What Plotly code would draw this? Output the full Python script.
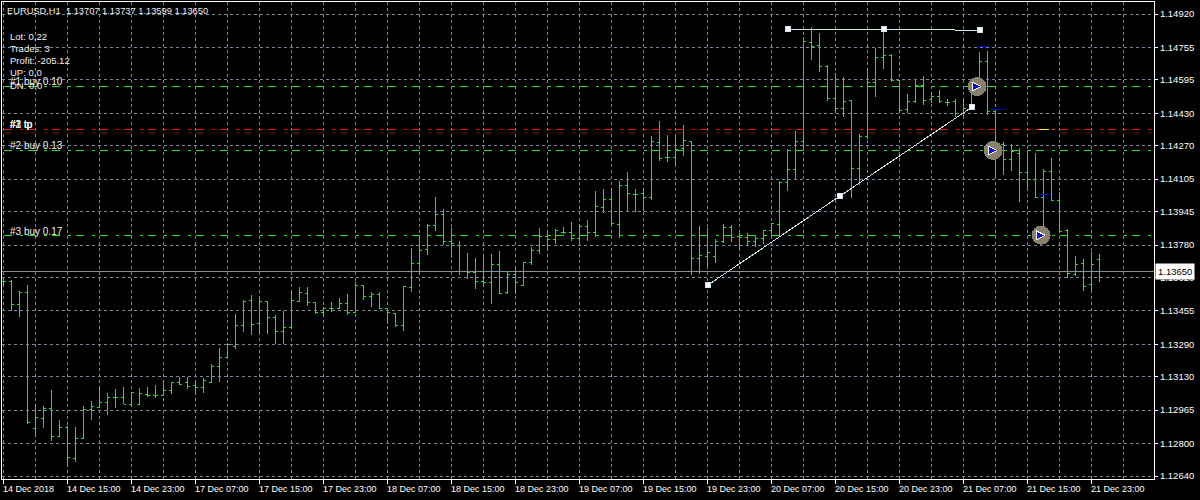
import plotly.graph_objects as go

opens = [1.13602,1.13602,1.13484,1.13548,1.12872,1.12922,1.12971,1.12837,1.12881,1.12724,
1.12823,1.12966,1.12980,1.13005,1.13029,1.13025,1.12995,1.12995,1.13044,1.13039,
1.13039,1.13064,1.13099,1.13099,1.13089,1.13075,1.13099,1.13178,1.13227,1.13281,
1.13385,1.13504,1.13395,1.13499,1.13424,1.13355,1.13375,1.13499,1.13543,1.13494,
1.13449,1.13469,1.13469,1.13489,1.13449,1.13582,1.13528,1.13538,1.13469,1.13444,
1.13385,1.13572,1.13691,1.13760,1.13878,1.13933,1.13795,1.13780,1.13647,1.13642,
1.13602,1.13597,1.13686,1.13548,1.13632,1.13582,1.13696,1.13755,1.13824,1.13805,
1.13844,1.13844,1.13810,1.13873,1.13844,1.13967,1.14007,1.13883,1.14076,1.14031,
1.14036,1.14012,1.14288,1.14210,1.14214,1.14254,1.14293,1.13711,1.13725,1.13725,
1.13795,1.13864,1.13824,1.13815,1.13795,1.13810,1.13854,1.13883,1.14086,1.14155,
1.14293,1.14777,1.14767,1.14663,1.14501,1.14456,1.14491,1.14160,1.14313,1.14584,
1.14703,1.14713,1.14594,1.14451,1.14486,1.14565,1.14496,1.14515,1.14481,1.14486,
1.14431,1.14456,1.14565,1.14688,1.14441,1.14274,1.14200,1.14234,1.14140,1.14101,
1.14016,1.14145,1.14002,1.13854,1.13632,1.13691,1.13587,1.13707]
highs = [1.13613,1.13607,1.13553,1.13582,1.12995,1.12985,1.13064,1.12916,1.12886,1.12881,
1.12985,1.13010,1.13084,1.13049,1.13070,1.13079,1.13054,1.13075,1.13079,1.13089,
1.13114,1.13104,1.13128,1.13128,1.13114,1.13124,1.13192,1.13272,1.13296,1.13439,
1.13509,1.13533,1.13523,1.13504,1.13434,1.13454,1.13553,1.13572,1.13572,1.13499,
1.13474,1.13499,1.13519,1.13538,1.13597,1.13582,1.13548,1.13548,1.13469,1.13444,
1.13577,1.13766,1.13829,1.13883,1.14016,1.13958,1.13864,1.13800,1.13740,1.13716,
1.13735,1.13735,1.13750,1.13647,1.13671,1.13696,1.13770,1.13864,1.13854,1.13859,
1.13869,1.13893,1.13883,1.13903,1.14046,1.14057,1.14062,1.14096,1.14140,1.14057,
1.14062,1.14318,1.14392,1.14323,1.14328,1.14372,1.14293,1.13873,1.13864,1.13810,
1.13883,1.13878,1.13839,1.13839,1.13829,1.13854,1.13888,1.14096,1.14254,1.14343,
1.14806,1.14856,1.14826,1.14668,1.14629,1.14609,1.14491,1.14328,1.14654,1.14752,
1.14831,1.14723,1.14594,1.14525,1.14594,1.14614,1.14535,1.14545,1.14501,1.14501,
1.14505,1.14565,1.14732,1.14737,1.14446,1.14288,1.14278,1.14259,1.14249,1.14234,
1.14155,1.14210,1.14041,1.13859,1.13725,1.13711,1.13745,1.13737]
lows = [1.13572,1.13454,1.13424,1.12896,1.12832,1.12877,1.12813,1.12832,1.12684,1.12709,
1.12823,1.12916,1.12976,1.12941,1.12976,1.12995,1.12980,1.12995,1.13029,1.13025,
1.13039,1.13044,1.13089,1.13070,1.13039,1.13049,1.13099,1.13104,1.13227,1.13267,
1.13350,1.13335,1.13340,1.13340,1.13291,1.13291,1.13370,1.13499,1.13479,1.13439,
1.13429,1.13449,1.13464,1.13434,1.13449,1.13509,1.13474,1.13464,1.13390,1.13375,
1.13355,1.13548,1.13632,1.13730,1.13849,1.13780,1.13716,1.13632,1.13613,1.13563,
1.13572,1.13489,1.13538,1.13538,1.13538,1.13582,1.13681,1.13735,1.13750,1.13785,
1.13834,1.13800,1.13780,1.13800,1.13819,1.13938,1.13873,1.13815,1.13948,1.13943,
1.13948,1.14002,1.14195,1.14190,1.14170,1.14219,1.13632,1.13637,1.13666,1.13691,
1.13790,1.13795,1.13755,1.13775,1.13770,1.13785,1.13815,1.13829,1.14046,1.14106,
1.14249,1.14693,1.14634,1.14491,1.14436,1.14412,1.14012,1.14076,1.14303,1.14510,
1.14649,1.14584,1.14431,1.14431,1.14481,1.14471,1.14481,1.14481,1.14466,1.14412,
1.14412,1.14456,1.14560,1.14421,1.14106,1.14125,1.14145,1.13992,1.14046,1.14012,
1.13844,1.13997,1.13844,1.13617,1.13627,1.13553,1.13548,1.13599]
closes = [1.13602,1.13484,1.13548,1.12906,1.12927,1.12971,1.12837,1.12881,1.12729,1.12823,
1.12966,1.12985,1.13005,1.13029,1.13025,1.12995,1.13054,1.13049,1.13039,1.13039,
1.13064,1.13099,1.13094,1.13084,1.13075,1.13109,1.13178,1.13227,1.13291,1.13385,
1.13499,1.13390,1.13499,1.13424,1.13355,1.13375,1.13504,1.13548,1.13494,1.13449,
1.13469,1.13469,1.13489,1.13449,1.13582,1.13528,1.13538,1.13469,1.13449,1.13385,
1.13577,1.13691,1.13755,1.13878,1.13933,1.13795,1.13785,1.13647,1.13642,1.13602,
1.13597,1.13686,1.13543,1.13632,1.13597,1.13696,1.13755,1.13824,1.13805,1.13854,
1.13844,1.13810,1.13873,1.13844,1.13972,1.14007,1.13888,1.14076,1.14036,1.14031,
1.14012,1.14293,1.14205,1.14214,1.14249,1.14298,1.13711,1.13730,1.13745,1.13795,
1.13864,1.13819,1.13815,1.13795,1.13810,1.13854,1.13888,1.14086,1.14155,1.14293,
1.14782,1.14762,1.14663,1.14501,1.14456,1.14486,1.14160,1.14313,1.14584,1.14703,
1.14713,1.14594,1.14446,1.14486,1.14565,1.14491,1.14515,1.14486,1.14481,1.14431,
1.14456,1.14565,1.14688,1.14441,1.14274,1.14200,1.14239,1.14140,1.14101,1.14016,
1.14145,1.14002,1.13849,1.13637,1.13686,1.13577,1.13686,1.13650]

bar_index = list(range(len(opens)))

price_ticks = [1.14920,1.14755,1.14595,1.14430,1.14270,1.14105,1.13945,1.13780,
               1.13620,1.13455,1.13290,1.13130,1.12965,1.12800,1.12640]
time_labels = ["14 Dec 2018","14 Dec 15:00","14 Dec 23:00","17 Dec 07:00","17 Dec 15:00",
               "17 Dec 23:00","18 Dec 07:00","18 Dec 15:00","18 Dec 23:00","19 Dec 07:00",
               "19 Dec 15:00","19 Dec 23:00","20 Dec 07:00","20 Dec 15:00","20 Dec 23:00",
               "21 Dec 07:00","21 Dec 15:00","21 Dec 23:00"]
time_tick_index = [8 * k for k in range(len(time_labels))]
grid_index = [4 * k for k in range(37)]

current_price = 1.13650
buy_levels = [1.14562, 1.14247, 1.13828]
buy_labels = ["#1 buy 0.10", "#2 buy 0.13", "#3 buy 0.17"]
tp_level = 1.14351
entry_index = [121.7, 123.7, 129.7]
arrow_index = [122.2, 124.2, 130.2]
close_mark_index = [122.4, 124.1, 130.1]
close_mark_price = [1.14758, 1.14447, 1.14030]
yellow_mark_index = [130.1]
yellow_mark_price = [1.14351]
trend1_index = [88, 104.5, 121]
trend1_price = [1.13581, 1.14020, 1.14459]
trend2_index = [98, 110, 122]
trend2_price = [1.14844, 1.14844, 1.14840]
level_end_index = [0, 143.4]

PW, PH, ML, MT, MR, MB = 1200, 500, 2, 2, 46, 21
def fx(x): return (x - ML) / (PW - ML - MR)
def fy(y): return 1 - (y - MT) / (PH - MT - MB)

GRID = "#778899"
GREEN = "#1ee61e"
LBL = "Liberation Sans"
DASHDOT = "8px,8px,3px,5px"

fig = go.Figure()
for lv in buy_levels:
    fig.add_trace(go.Scatter(x=level_end_index, y=[lv, lv], mode="lines", hoverinfo="skip",
                             line=dict(color="#22e022", width=1, dash=DASHDOT)))
fig.add_trace(go.Scatter(x=level_end_index, y=[tp_level, tp_level], mode="lines", hoverinfo="skip",
                         line=dict(color="#f01010", width=1, dash=DASHDOT)))
fig.add_trace(go.Scatter(x=[-1, 144], y=[current_price, current_price], mode="lines", hoverinfo="skip",
                         line=dict(color="#8a9096", width=1)))
fig.add_trace(go.Ohlc(x=bar_index, open=opens, high=highs, low=lows, close=closes,
                      tickwidth=0.36, hoverinfo="skip",
                      increasing=dict(line=dict(color=GREEN, width=1)),
                      decreasing=dict(line=dict(color=GREEN, width=1))))
for xs, ys in ((trend1_index, trend1_price), (trend2_index, trend2_price)):
    fig.add_trace(go.Scatter(x=xs, y=ys, mode="lines+markers", hoverinfo="skip",
                             line=dict(color="#cfe6f2", width=1),
                             marker=dict(symbol="square", size=5, color="white",
                                         line=dict(color="#cfe6f2", width=1))))
fig.add_trace(go.Scatter(x=close_mark_index, y=close_mark_price, mode="markers", hoverinfo="skip",
                         marker=dict(symbol="line-ew", size=7, line=dict(color="#0000e0", width=1))))
fig.add_trace(go.Scatter(x=yellow_mark_index, y=yellow_mark_price, mode="markers", hoverinfo="skip",
                         marker=dict(symbol="line-ew", size=7, line=dict(color="#f0f020", width=1))))
fig.add_trace(go.Scatter(x=entry_index, y=buy_levels, mode="markers", hoverinfo="skip",
                         marker=dict(symbol="circle", size=19, color="#8a8070")))
fig.add_trace(go.Scatter(x=arrow_index, y=buy_levels, mode="markers", hoverinfo="skip",
                         marker=dict(symbol="arrow-right", size=9, color="#0a0af0",
                                     line=dict(color="white", width=1))))

ann = []
def text(x, y, s, size=9.5):
    ann.append(dict(xref="paper", yref="paper", x=fx(x), y=fy(y), text=s, showarrow=False,
                    xanchor="left", yanchor="middle", align="left",
                    font=dict(family=LBL, size=size, color="#f0f0f0"), borderpad=0, borderwidth=0))

text(7, 11, "EURUSD,H1\u00a0\u00a01.13707 1.13737 1.13599 1.13650", size=9.3)
for y, s in ((36, "Lot: 0,22"), (48, "Trades: 3"), (60, "Profit: -205.12"), (72, "UP: 0,0"), (85, "DN: 0,0")):
    text(10, y, s)
for y, s in zip((81.5, 146, 231), buy_labels):
    text(10, y, s, size=10)
for s in ("#1 tp", "#2 tp", "#3 tp"):
    text(10, 125, s, size=10)
for idx, s in zip(time_tick_index, time_labels):
    x_px = 1 + 8 * idx
    ann.append(dict(xref="paper", yref="paper", x=fx(x_px), y=fy(489), text=s, showarrow=False,
                    xanchor="left", yanchor="middle",
                    font=dict(family=LBL, size=9, color="white")))
ann.append(dict(xref="paper", yref="y", x=fx(1155), y=current_price, text="1.13650", showarrow=False,
                xanchor="left", yanchor="middle", bgcolor="white", borderpad=2,
                font=dict(family=LBL, size=9.5, color="black")))

fig.update_layout(
    width=PW, height=PH, autosize=False, showlegend=False,
    paper_bgcolor="black", plot_bgcolor="black",
    margin=dict(l=ML, r=MR, t=MT, b=MB, pad=0),
    annotations=ann,
    xaxis=dict(range=[-0.1875, 143.8125], rangeslider=dict(visible=False), zeroline=False,
               tickmode="array", tickvals=time_tick_index, ticktext=[""] * len(time_labels),
               ticks="outside", ticklen=4, tickcolor="white", tickwidth=1,
               showgrid=False, showline=True, linecolor="white", linewidth=1, mirror=True,
               minor=dict(tickmode="array", tickvals=grid_index, showgrid=True, ticks="",
                          gridcolor=GRID, gridwidth=1, griddash="3px,3px")),
    yaxis=dict(range=[1.126252, 1.149792], side="right", zeroline=False,
               tickmode="array", tickvals=price_ticks, ticktext=[f"{v:.5f}" for v in price_ticks],
               ticks="outside", ticklen=3, tickcolor="white", tickwidth=1,
               tickfont=dict(family=LBL, size=9.5, color="white"),
               showgrid=True, gridcolor=GRID, gridwidth=1, griddash="3px,3px",
               showline=True, linecolor="white", linewidth=1, mirror=True),
)
post = ("document.documentElement.style.margin='0';document.body.style.margin='0';"
        "document.documentElement.style.overflow='hidden';document.body.style.overflow='hidden';"
        "document.querySelectorAll('.ohlc path, .js-line, .scatterlayer .point').forEach(function(p){p.style.shapeRendering='crispEdges';});")
fig.write_html("out.html", post_script=post, config={"displayModeBar": False})
